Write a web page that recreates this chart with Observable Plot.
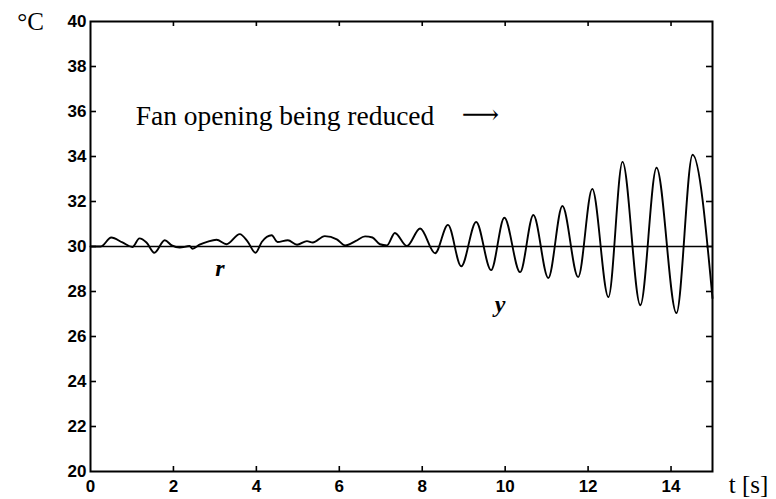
<!DOCTYPE html>
<html>
<head>
<meta charset="utf-8">
<script src="https://cdn.jsdelivr.net/npm/d3@7"></script>
<script src="https://cdn.jsdelivr.net/npm/@observablehq/plot@0.6"></script>
<style>
  html, body { margin: 0; padding: 0; background: #fff; }
  #chart svg { display: block; }
</style>
</head>
<body>
<div id="chart"></div>
<script>
// time [s]
const times = [0.00, 0.25, 0.50, 0.77, 1.01, 1.18, 1.35, 1.54, 1.79, 1.96, 2.15, 2.39, 2.46, 2.63, 2.83, 3.04, 3.28, 3.60, 3.79, 3.98,
  4.13, 4.37, 4.51, 4.76, 4.98, 5.22, 5.36, 5.65, 5.94, 6.14, 6.40, 6.62, 6.80, 6.98, 7.15, 7.34, 7.63, 7.95, 8.31, 8.62,
  8.94, 9.30, 9.66, 9.98, 10.36, 10.68, 11.04, 11.38, 11.76, 12.10, 12.49, 12.83, 13.26, 13.65, 14.13, 14.52, 15.00];
// measured temperature y [°C]
const temps = [30.00, 30.00, 30.40, 30.18, 29.98, 30.36, 30.18, 29.72, 30.28, 30.05, 29.95, 30.02, 29.90, 30.08, 30.22, 30.30, 30.10, 30.55, 30.22, 29.72,
  30.20, 30.50, 30.20, 30.28, 30.08, 30.24, 30.18, 30.46, 30.32, 30.05, 30.25, 30.45, 30.40, 30.10, 30.05, 30.60, 30.02, 30.80, 29.70, 30.96,
  29.12, 31.09, 28.95, 31.28, 28.86, 31.40, 28.60, 31.80, 28.64, 32.56, 27.75, 33.76, 27.39, 33.50, 27.04, 34.08, 27.70];
// reference r
const reference = [30];

const xTicks = [0, 2, 4, 6, 8, 10, 12, 14];
const yTicks = [20, 22, 24, 26, 28, 30, 32, 34, 36, 38, 40];
const xInnerTicks = [2, 4, 6, 8, 10, 12, 14];
const yInnerTicks = [22, 24, 26, 28, 30, 32, 34, 36, 38];

// annotations
const annotText = ["Fan opening being reduced"];
const annotPos = [{t: 1.09, v: 35.8}];
const arrowPos = [{t: 9.4, v: 35.85}];
const seriesLabels = [{label: "r", t: 3.12, v: 29.05}, {label: "y", t: 9.88, v: 27.45}];

const data = times.map((t, i) => ({t, v: temps[i]}));

const W = 776, H = 499;
const mL = 90, mR = 64, mT = 21, mB = 28;
const pw = W - mL - mR, ph = H - mT - mB;

const serif = "Liberation Serif, Times New Roman, serif";
const sans = "Liberation Sans, Arial, sans-serif";

const chart = Plot.plot({
  width: W,
  height: H,
  marginLeft: mL,
  marginRight: mR,
  marginTop: mT,
  marginBottom: mB,
  style: {background: "#fff", color: "#000"},
  x: {domain: [0, 15], ticks: xTicks},
  y: {domain: [20, 40], ticks: yTicks},
  marks: [
    Plot.axisX(xTicks, {tickSize: 0, tickPadding: 8, fontSize: 17, fontWeight: "bold", fontFamily: sans, label: null}),
    Plot.axisY(yTicks, {tickSize: 0, tickPadding: 4, fontSize: 17, fontWeight: "bold", fontFamily: sans, label: null}),
    // inward ticks
    Plot.tickX(xInnerTicks, {x: d => d, insetTop: ph - 5, strokeWidth: 1.6}),
    Plot.tickX(xInnerTicks, {x: d => d, insetBottom: ph - 5, strokeWidth: 1.6}),
    Plot.tickY(yInnerTicks, {y: d => d, insetRight: pw - 6, strokeWidth: 1.6}),
    Plot.tickY(yInnerTicks, {y: d => d, insetLeft: pw - 6, strokeWidth: 1.6}),
    Plot.ruleY(reference, {x1: 0, x2: 15, stroke: "#000", strokeWidth: 1.4}),
    Plot.line(data, {x: "t", y: "v", curve: "monotone-x", stroke: "#000", strokeWidth: 1.9}),
    Plot.frame({stroke: "#000", strokeWidth: 2}),
    Plot.text(annotPos, {x: "t", y: "v", text: () => annotText[0], textAnchor: "start", fontSize: 27.5, fontFamily: serif, fill: "#000"}),
    Plot.text(arrowPos, {x: "t", y: "v", text: () => "⟶", fontSize: 26, fontFamily: "DejaVu Serif, serif", fill: "#000"}),
    Plot.text(seriesLabels, {x: "t", y: "v", text: "label", fontSize: 24, fontStyle: "italic", fontWeight: "bold", fontFamily: serif, fill: "#000"}),
    Plot.text(["°C"], {frameAnchor: "top-left", textAnchor: "middle", lineAnchor: "middle", text: d => d, dx: -60, dy: 0, fontSize: 25, fontFamily: serif, fill: "#000"}),
    Plot.text(["t [s]"], {frameAnchor: "bottom-right", textAnchor: "middle", lineAnchor: "middle", text: d => d, dx: 36, dy: 13, fontSize: 25, fontFamily: serif, fill: "#000"})
  ]
});
document.getElementById("chart").appendChild(chart);
</script>
</body>
</html>
